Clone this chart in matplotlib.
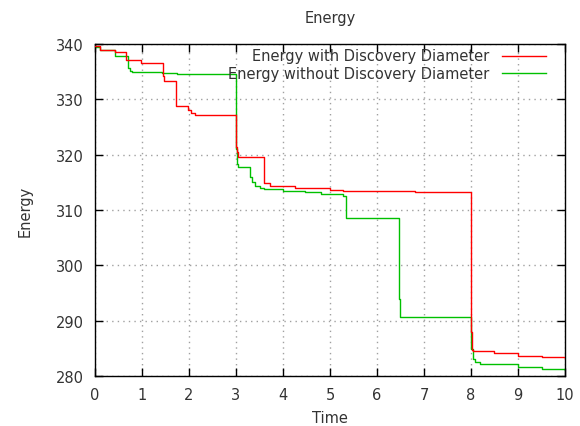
import matplotlib

matplotlib.use("Agg")
import matplotlib.pyplot as plt

# step data (time, energy), drawn as steps-post
with_time = [0.0, 0.1, 0.43, 0.65, 0.98, 1.45, 1.47, 1.73, 1.98, 2.05, 2.12, 3.0, 3.02,
             3.05, 3.33, 3.6, 3.72, 4.25, 5.0, 5.28, 6.8, 7.99, 8.0, 8.02, 8.05, 8.5,
             9.0, 9.5, 10.0]
with_energy = [339.7, 339.0, 338.5, 337.1, 336.6, 334.2, 333.3, 328.8, 328.0, 327.5, 327.2,
               321.3, 320.5, 319.6, 319.5, 314.8, 314.3, 314.0, 313.7, 313.4, 313.2, 297.2,
               288.0, 284.7, 284.5, 284.1, 283.7, 283.4, 283.2]

without_time = [0.0, 0.1, 0.42, 0.7, 0.75, 0.79, 1.43, 1.75, 3.0, 3.02, 3.05, 3.3, 3.35,
                3.4, 3.5, 3.6, 4.0, 4.47, 4.8, 5.28, 5.34, 6.46, 6.48, 7.99, 8.01, 8.04,
                8.08, 8.2, 9.0, 9.5, 10.0]
without_energy = [339.4, 339.0, 337.8, 335.7, 335.1, 334.9, 334.7, 334.5, 321.0, 318.3, 317.8,
                  316.0, 315.0, 314.4, 314.0, 313.8, 313.5, 313.2, 312.9, 312.6, 308.6, 294.0,
                  290.7, 288.5, 284.9, 283.0, 282.5, 282.1, 281.7, 281.3, 281.0]

labels = ["Energy with Discovery Diameter", "Energy without Discovery Diameter"]
colors = ["#ff0000", "#00c000"]
text_color = "#333333"
font_size = 10.5

fig = plt.figure(figsize=(5.8, 4.27), dpi=100)
ax = fig.add_axes([95 / 580, 1 - 377 / 427, 470 / 580, 332 / 427])

ax.plot(with_time, with_energy, drawstyle="steps-post", color=colors[0], linewidth=1.0, zorder=3)
ax.plot(without_time, without_energy, drawstyle="steps-post", color=colors[1], linewidth=1.0,
        zorder=2)

ax.set_xlim(0, 10)
ax.set_ylim(280, 340)
ax.set_xticks(range(0, 11))
ax.set_yticks(range(280, 341, 10))
ax.grid(True, color="#a0a0a0", linestyle=(0, (1, 3)), linewidth=1.0)
ax.tick_params(direction="in", length=6, width=1, top=True, right=True,
               labelsize=font_size, labelcolor=text_color, pad=8)
for spine in ax.spines.values():
    spine.set_linewidth(1.0)
    spine.set_color("black")

ax.set_xlabel("Time", fontsize=font_size, color=text_color, labelpad=5.5)
ax.set_ylabel("Energy", fontsize=font_size, color=text_color, labelpad=16.5)
ax.set_title("Energy", fontsize=font_size, color=text_color, pad=15.5)

# gnuplot-style key: right-aligned text with the line sample to its right
for i, (label, color) in enumerate(zip(labels, colors)):
    y = 1 - (12 + 17 * i) / 332
    ax.text((489 - 95) / 470, y, label, transform=ax.transAxes, ha="right", va="center",
            fontsize=font_size, color=text_color, zorder=5)
    ax.plot([(502 - 95) / 470, (546 - 95) / 470], [y, y], transform=ax.transAxes,
            color=color, linewidth=1.0, clip_on=False, zorder=5)

fig.savefig("out.png", dpi=100)
plt.close(fig)
